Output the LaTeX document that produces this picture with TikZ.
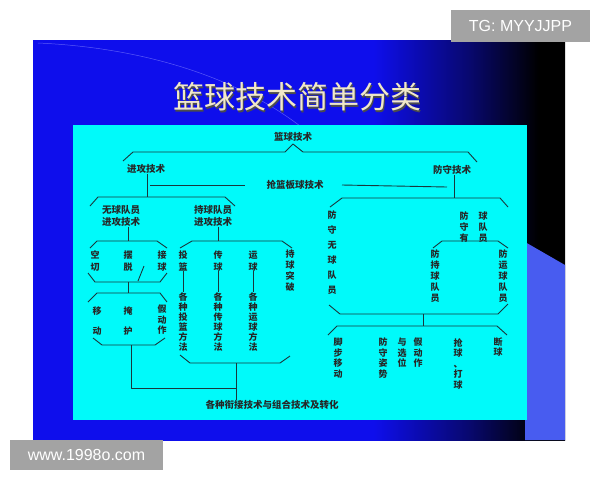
\documentclass[tikz,border=0pt]{standalone}
\usepackage{fontspec}
\newfontfamily\cjk{Noto Sans CJK SC}
\newfontfamily\wm{Liberation Sans}
\definecolor{sb}{RGB}{14,14,236}
\definecolor{sbd}{RGB}{8,8,110}
\definecolor{cyanbox}{RGB}{0,250,250}
\definecolor{lightpoly}{RGB}{72,92,240}
\definecolor{linec}{RGB}{25,55,60}
\definecolor{titlec}{RGB}{240,232,200}
\definecolor{wmgray}{RGB}{163,163,163}
\pgfdeclarehorizontalshading{slideshade}{100bp}{color(0bp)=(sb); color(57bp)=(sb); color(66bp)=(sbd); color(72.5bp)=(black); color(100bp)=(black)}
\begin{document}
\begin{tikzpicture}[x=1pt,y=-1pt,
  lab/.style={font=\cjk\bfseries\fontsize{9.5}{12}\selectfont, inner sep=0pt, align=center, text=black!85},
  vt/.style={font=\cjk\bfseries\fontsize{9}{#1}\selectfont, inner sep=0pt, align=center, text=black!85},
  ln/.style={draw=linec, line width=0.9pt, line join=round}]
\useasboundingbox (0,0) rectangle (600,480);
\fill[white] (0,0) rectangle (600,480);
% slide
\shade[shading=slideshade] (33,40) rectangle (565,440);
\draw[blue!45!white, opacity=0.6, line width=0.5pt] (38,43) .. controls (150,48) and (240,80) .. (300,126);
\fill[lightpoly] (525,242) -- (565,265) -- (565,440) -- (525,440) -- cycle;
% title
\node[font=\cjk\fontsize{31}{31}\selectfont, text=black!70] at (298.5,98.5) {篮球技术简单分类};
\node[font=\cjk\fontsize{31}{31}\selectfont, text=titlec] (title) at (297,97) {篮球技术简单分类};
% cyan panel
\fill[cyanbox] (73,125) rectangle (527,420);
% watermarks
\fill[wmgray] (451,10) rectangle (590,42);
\node[font=\wm\fontsize{16}{16}\selectfont, text=white] (tg) at (520.5,26) {TG: MYYJJPP};
\fill[wmgray] (10,440) rectangle (163,470);
\node[font=\wm\fontsize{16}{16}\selectfont, text=white] (www) at (86.5,455) {www.1998o.com};

% ---------- text nodes ----------
\node[lab] (root) at (293,137) {篮球技术};
\node[lab] (jg) at (146,169) {进攻技术};
\node[lab] (qlb) at (295,185) {抢篮板球技术};
\node[lab] (fs) at (452,170) {防守技术};
\node[lab] (wq) at (121,216) {无球队员\\进攻技术};
\node[lab] (cq) at (213,216) {持球队员\\进攻技术};
\node[vt=12] (kq) at (95,261) {空\\切};
\node[vt=12] (bt) at (128,261) {摆\\脱};
\node[vt=12] (jq) at (162,261) {接\\球};
\node[vt=20] (yd) at (97,321) {移\\动};
\node[vt=20] (yh) at (128,321) {掩\\护};
\node[vt=10.5] (jdz) at (162,320) {假\\动\\作};
\node[vt=12] (tl) at (183,261) {投\\篮};
\node[vt=12] (cqq) at (218,261) {传\\球};
\node[vt=12] (yq) at (253,261) {运\\球};
\node[vt=11] (tp) at (290,271) {持\\球\\突\\破};
\node[vt=10] (m1) at (183,322) {各\\种\\投\\篮\\方\\法};
\node[vt=10] (m2) at (218,322) {各\\种\\传\\球\\方\\法};
\node[vt=10] (m3) at (253,322) {各\\种\\运\\球\\方\\法};
\node[vt=15] (fwq) at (332,253) {防\\守\\无\\球\\队\\员};
\node[vt=11] (fyq1) at (464,227) {防\\守\\有};
\node[vt=11] (fyq2) at (483,227) {球\\队\\员};
\node[vt=11] (fcq) at (435,276) {防\\持\\球\\队\\员};
\node[vt=11] (fyy) at (503,276) {防\\运\\球\\队\\员};
\node[vt=10.5] (jbyd) at (338,358) {脚\\步\\移\\动};
\node[vt=10.5] (fszs) at (383,358) {防\\守\\姿\\势};
\node[vt=10.5] (yxw) at (402,353) {与\\选\\位};
\node[vt=10.5] (jdz2) at (418,353) {假\\动\\作};
\node[vt=10.5] (qq) at (458,364) {抢\\球\\、\\打\\球};
\node[vt=10.5] (dq) at (498,347) {断\\球};
\node[lab] (final) at (272,405) {各种衔接技术与组合技术及转化};

% ---------- brackets (shapes) ----------
\draw[ln] (123,161) -- (133,152) -- (285,152) -- (293,144) -- (303,152) -- (468,152) -- (477,162);
\coordinate (atk) at (147,197);
\draw[ln] (90,206) -- (98,197) -- (225,197) -- (235,206);
\coordinate (dfs) at (454,198);
\draw[ln] (330,207) -- (342,198) -- (500,198) -- (508,207);
\coordinate (rbl) at (150,185);
\coordinate (rbr) at (447,187);
\coordinate (wqb) at (128,241);
\draw[ln] (90,248) -- (97,241) -- (157,241) -- (167,248);
\draw[ln] (88,273) -- (95,282) -- (160,282) -- (167,273);
\draw[ln] (144,266) -- (138,281);
\coordinate (wqc) at (128,282);
\coordinate (wqd) at (128,293);
\draw[ln] (88,302) -- (97,293) -- (160,293) -- (167,302);
\draw[ln] (93,338) -- (102,345) -- (155,345) -- (165,338);
\coordinate (wqe) at (131,345);
\coordinate (jn) at (236,388);
\coordinate (cqb) at (218,241);
\draw[ln] (180,248) -- (192,241) -- (282,241) -- (292,248);
\draw[ln] (180,355) -- (190,363) -- (280,363) -- (290,356);
\coordinate (cqe) at (236,363);
\draw[ln] (433,248) -- (442,241) -- (498,241) -- (508,248);
\draw[ln] (329,305) -- (340,314) -- (498,314) -- (508,304);
\coordinate (dfa) at (423,314);
\coordinate (dfb) at (423,326);
\draw[ln] (328,335) -- (337,326) -- (497,326) -- (507,335);

% ---------- connectors ----------
\draw[ln] (jg.south -| atk) -- (atk);
\draw[ln] (rbl) -- (qlb.west -| 245,0);
\draw[ln] (qlb.east -| 342,0) -- (rbr);
\draw[ln] (fs.south -| dfs) -- (dfs);
\draw[ln] (wq.south -| wqb) -- (wqb);
\draw[ln] (wqc) -- (wqd);
\draw[ln] (wqe) |- (jn);
\draw[ln] (cq.south -| cqb) -- (cqb);
\draw[ln] (tl.south) -- (m1.north);
\draw[ln] (cqq.south) -- (m2.north);
\draw[ln] (yq.south) -- (m3.north);
\draw[ln] (cqe) -- (final.north -| cqe);
\draw[ln] (dfa) -- (dfb);
\end{tikzpicture}
\end{document}
